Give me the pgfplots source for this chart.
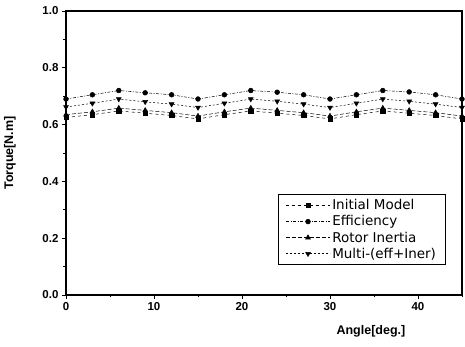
\documentclass[border=0pt]{standalone}
\usepackage{pgfplots}
\pgfplotsset{compat=1.18}
\usepackage{fontspec}
\setmainfont{Liberation Sans}
\newfontfamily\legfont{DejaVu Sans}
\begin{document}
\begin{tikzpicture}[x=1pt,y=1pt]
\begin{axis}[name=ax,
  scale only axis, width=396pt, height=284pt,
  xmin=0, xmax=45, ymin=0, ymax=1.0,
  xtick={0,10,20,30,40}, minor xtick={5,15,25,35,45},
  ytick={0,0.2,0.4,0.6,0.8,1.0}, minor ytick={0.1,0.3,0.5,0.7,0.9},
  yticklabel style={/pgf/number format/fixed,/pgf/number format/fixed zerofill,/pgf/number format/precision=1},
  /pgf/number format/assume math mode=true,
  ticklabel style={font=\fontsize{11.5}{12}\selectfont\bfseries},
  tick align=outside, major tick length=4pt, minor tick length=2.5pt,
  tick style={black, line width=0.8pt},
  xtick pos=bottom, ytick pos=left,
  axis line style={line width=1.3pt},
  xlabel={Angle[deg.]}, ylabel={Torque[N.m]},
  label style={font=\fontsize{12.5}{14}\selectfont\bfseries},
  xlabel style={at={(axis description cs:0.77,-0.095)}, anchor=north},
  ylabel style={at={(axis description cs:-0.118,0.5)}, anchor=south},
  legend style={at={(axis cs:43.1,0.106)}, anchor=south east, draw=black, line width=0.6pt,
    font=\legfont\fontsize{13.5}{15}\selectfont, row sep=0.3pt, inner sep=3pt, inner xsep=7pt},
  legend cell align=left,
  legend image code/.code={\draw[mark repeat=2,mark phase=2,#1] plot coordinates {(0pt,0pt) (22pt,0pt) (44pt,0pt)};},
]
\addplot[black, line width=0.5pt, dashed, mark=square*, mark size=2.2pt, mark options={solid}] coordinates {
(0,0.625)(3,0.635)(6,0.648)(9,0.640)(12,0.632)(15,0.620)
(18,0.635)(21,0.648)(24,0.640)(27,0.632)(30,0.620)
(33,0.635)(36,0.648)(39,0.640)(42,0.632)(45,0.620)};
\addlegendentry{Initial Model}
\addplot[black, line width=0.5pt, dash pattern=on 3pt off 1.5pt on 1pt off 1.5pt, mark=*, mark size=2.4pt, mark options={solid}] coordinates {
(0,0.690)(3,0.705)(6,0.720)(9,0.712)(12,0.705)(15,0.690)
(18,0.705)(21,0.720)(24,0.714)(27,0.705)(30,0.690)
(33,0.705)(36,0.720)(39,0.715)(42,0.705)(45,0.690)};
\addlegendentry{Efficiency}
\addplot[black, line width=0.5pt, dash pattern=on 4pt off 2pt, mark=triangle*, mark size=2.8pt, mark options={solid}] coordinates {
(0,0.635)(3,0.645)(6,0.658)(9,0.650)(12,0.642)(15,0.630)
(18,0.645)(21,0.658)(24,0.650)(27,0.642)(30,0.630)
(33,0.645)(36,0.658)(39,0.650)(42,0.642)(45,0.630)};
\addlegendentry{Rotor Inertia}
\addplot[black, line width=0.5pt, dash pattern=on 2pt off 2pt, mark=triangle*, mark size=2.8pt, mark options={solid, rotate=180}] coordinates {
(0,0.662)(3,0.675)(6,0.690)(9,0.680)(12,0.672)(15,0.660)
(18,0.675)(21,0.690)(24,0.682)(27,0.672)(30,0.660)
(33,0.675)(36,0.690)(39,0.682)(42,0.672)(45,0.660)};
\addlegendentry{Multi-(eff+Iner)}
\end{axis}
\path ([shift={(-66pt,-52pt)}]ax.south west) rectangle ([shift={(3pt,11pt)}]ax.north east);
\end{tikzpicture}
\end{document}
